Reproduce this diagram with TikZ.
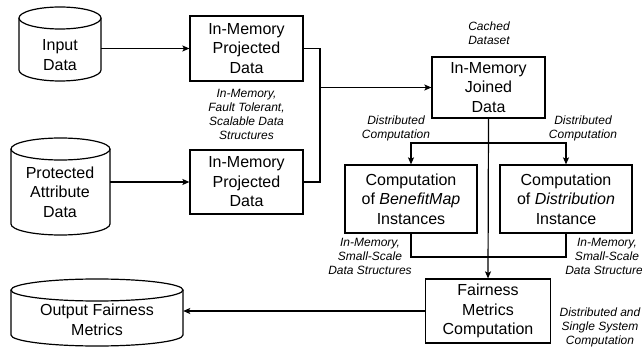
\documentclass[tikz,border=0pt]{standalone}
\usepackage{fontspec}
\setmainfont{Liberation Sans}
\usetikzlibrary{arrows.meta}
\newcommand{\mainsz}{\fontsize{16}{19.5}\selectfont}
\newcommand{\labsz}{\fontsize{12}{14}\selectfont}
\newcommand{\mycyl}[6]{%
  \draw[cylline] (#2,#3+#6) -- (#2,#5-#6) arc[start angle=180,end angle=0,x radius={(#4-#2)/2},y radius=#6] -- (#4,#3+#6);
  \draw[cylline] ({(#2+#4)/2},#3+#6) ellipse[x radius={(#4-#2)/2},y radius=#6];
  \node[inner sep=0pt,minimum width={(#4-#2)*1pt},minimum height={(#5-#3)*1pt}] (#1) at ({(#2+#4)/2},{(#3+#5)/2}) {};
}
\tikzset{
  box/.style={draw,line width=1.2pt,inner sep=0pt,align=center,font=\mainsz},
  cyltext/.style={align=center,font=\mainsz,inner sep=0pt},
  lab/.style={align=center,font=\labsz\itshape,inner sep=0pt},
  cylline/.style={line width=1.2pt,fill=white},
  conn/.style={line width=1.2pt},
  arr/.style={conn,-{Stealth[length=7pt,width=6pt,inset=1.5pt]}}
}
\begin{document}
\begin{tikzpicture}[x=1pt,y=-1pt]
\useasboundingbox (0,0) rectangle (642,347);
% cylinders
\mycyl{inp}{19}{7}{101}{81}{11}
\node[cyltext] (inpt) at (60,55) {Input\\Data};
\mycyl{prot}{11}{138}{110}{235}{11}
\node[cyltext] (prott) at (60,192) {Protected\\Attribute\\Data};
\mycyl{out}{11}{279}{183}{346}{11}
\node[cyltext] (outt) at (97,320) {Output Fairness\\Metrics};
% boxes
\node[box,minimum width=113pt,minimum height=65pt] (p1) at (246.5,48.5) {In-Memory\\Projected\\Data};
\node[box,minimum width=113pt,minimum height=64pt] (p2) at (246.5,182) {In-Memory\\Projected\\Data};
\node[box,minimum width=113pt,minimum height=61pt] (joined) at (488.5,87.5) {In-Memory\\Joined\\Data};
\node[box,minimum width=132pt,minimum height=68pt] (benefit) at (411,199) {Computation\\of \textit{BenefitMap}\\Instances};
\node[box,minimum width=132pt,minimum height=68pt] (dist) at (566,199) {Computation\\of \textit{Distribution}\\Instance};
\node[box,minimum width=125pt,minimum height=64pt] (fair) at (488,311) {Fairness\\Metrics\\Computation};
% labels
\node[lab] (l1) at (246.5,114) {In-Memory,\\Fault Tolerant,\\Scalable Data\\Structures};
\node[lab] (l2) at (489,33) {Cached\\Dataset};
\node[lab] (l3) at (396,128.5) {Distributed\\Computation};
\node[lab] (l4) at (583,128.5) {Distributed\\Computation};
\node[lab] (l5) at (370,256) {In-Memory,\\Small-Scale\\Data Structures};
\node[lab] (l6) at (607,256) {In-Memory,\\Small-Scale\\Data Structures};
\node[lab] (l7) at (600,327.5) {Distributed and\\Single System\\Computation};
% helper coordinates
\coordinate (j) at (320,87.5);
\coordinate (br) at (488,143);
\coordinate (mg) at (488,257);
% connectors
\draw[arr] (p1.west -| inp.east) -- (p1.west);
\draw[arr] (p2.west -| prot.east) -- (p2.west);
\draw[conn] (p1.east) -- (p1.east -| j) -- (p2.east -| j) -- (p2.east);
\draw[arr] (j) -- (joined.west);
\draw[arr] (joined.south) -- (fair.north);
\draw[arr] (br) -| (benefit.north);
\draw[arr] (br) -| (dist.north);
\draw[conn] (benefit.south) -- (benefit.south |- mg) -- (dist.south |- mg) -- (dist.south);
\draw[arr] (fair.west) -- (fair.west -| out.east);
\end{tikzpicture}
\end{document}
